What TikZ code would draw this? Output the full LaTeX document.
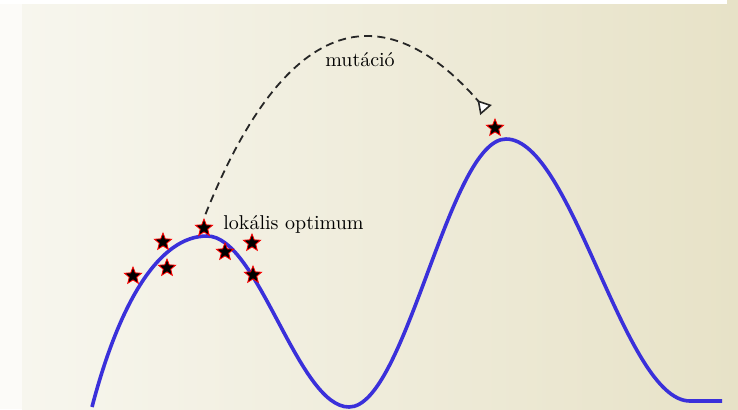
\documentclass[tikz,border=0pt]{standalone}
\usepackage{tikz}
\usetikzlibrary{arrows.meta, positioning, shapes.geometric}
\definecolor{bgleft}{RGB}{247,246,238}
\definecolor{bgright}{RGB}{231,226,199}
\definecolor{curveblue}{RGB}{58,48,218}

\begin{document}
\begin{tikzpicture}[x=0.5pt, y=-0.5pt,
  sol/.style={star, star points=5, star point ratio=2.3, minimum size=9pt, inner sep=0pt, fill=black, draw=red, line width=0.4pt},
  mutation/.style={dash pattern=on 4pt off 2.6pt, line width=0.9pt, black!85, -{Triangle[open, reversed, width=7.5pt, length=6.5pt, line width=0.8pt, fill=white]}}]
  \useasboundingbox (0,0) rectangle (738,409);
  \fill[white] (0,0) rectangle (738,409);
  \fill[bgleft!40] (0,4) rectangle (22,409);
  \shade[left color=bgleft, right color=bgright] (22,4) rectangle (738,409);
  \fill[bgright] (727,0) rectangle (738,4);
  % fitness landscape
  \draw[curveblue, line width=1.8pt] (92,407) .. controls (120,300) and (160,236) .. (207,236)
    .. controls (258,236) and (298,407) .. (349,407)
    .. controls (406,407) and (449,139) .. (506,139)
    .. controls (572,139) and (624,401) .. (690,401) -- (722,401);
  % population
  \node[sol] (s1) at (133,276) {};
  \node[sol] (s2) at (163,242) {};
  \node[sol] (s3) at (167,268) {};
  \node[sol] (s4) at (204,228) {};
  \node[sol] (s5) at (225,252) {};
  \node[sol] (s6) at (252,243) {};
  \node[sol] (s7) at (253,275) {};
  \node[sol] (best) at (495,128) {};
  \node[anchor=base west, inner sep=0pt] (lokopt) at (223,229) {lok\'alis optimum};
  \coordinate (jump) at (486,110);
  \draw[mutation, shorten <=2pt] (s4.north) .. controls (294,-6) and (395,5) .. (jump);
  \node[anchor=base] (mut) at (360,66) {mut\'aci\'o};
\end{tikzpicture}
\end{document}
